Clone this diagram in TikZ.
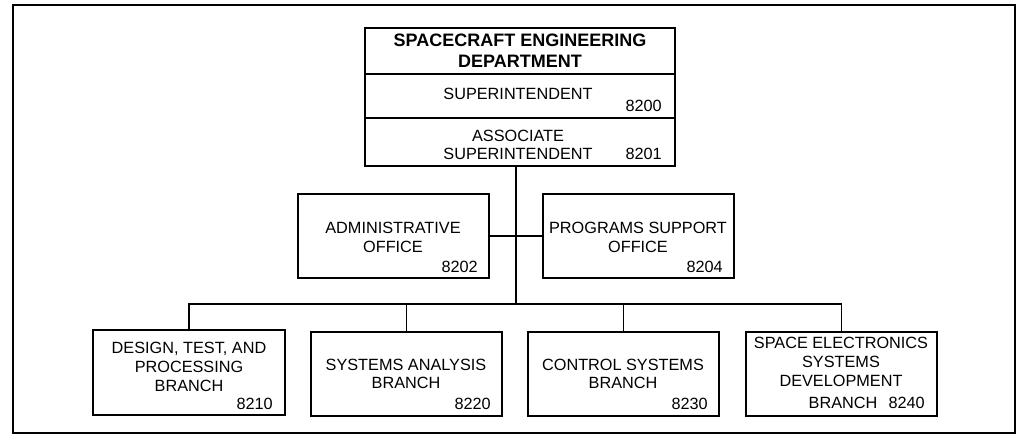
\documentclass[tikz,border=0pt]{standalone}
\usepackage{fontspec}
\setmainfont{Liberation Sans}
\usetikzlibrary{fit}
\begin{document}
\begin{tikzpicture}[x=0.75pt,y=-0.75pt,
  box/.style={draw, line width=0.8pt, inner sep=0pt, rectangle},
  frame/.style={draw, line width=2pt, inner sep=0pt, rectangle},
  conn/.style={draw, line width=0.8pt},
  lbl/.style={anchor=base, inner sep=0pt, font=\fontsize{12.2}{14}\selectfont},
  ttl/.style={anchor=base, inner sep=0pt, font=\fontsize{13.5}{16}\selectfont\bfseries},
  num/.style={anchor=base east, inner sep=0pt, font=\fontsize{12.2}{14}\selectfont}]
\useasboundingbox (0,0) rectangle (1018,435);
\node[frame, fit={(13,5) (1015,433)}] (outer) {};
% top stack
\node[box, fit={(365,28) (675,74)}] (dept) {};
\node[box, fit={(365,74) (675,118)}] (sup) {};
\node[box, fit={(365,118) (675,166)}] (assoc) {};
% offices
\node[box, fit={(298,194) (489,278)}] (admin) {};
\node[box, fit={(543,194) (734,278)}] (prog) {};
% branches
\node[box, fit={(93,330) (285,415)}] (b1) {};
\node[box, fit={(311,332) (502,416)}] (b2) {};
\node[box, fit={(528,332) (719,416)}] (b3) {};
\node[box, fit={(746,332) (937,416)}] (b4) {};
% connectors
\coordinate (hub) at (516,236);
\coordinate (bus) at (516,304);
\draw[conn] (hub |- assoc.south) -- (bus);
\draw[conn] (admin) -- (prog);
\draw[conn] (b1.north) |- (b4.north |- bus) -- (b4.north);
\draw[conn] (b2.north) -- (b2.north |- bus);
\draw[conn] (b3.north) -- (b3.north |- bus);
% texts
\node[ttl] (t1) at (520,47) {SPACECRAFT ENGINEERING};
\node[ttl] (t2) at (520,68) {DEPARTMENT};
\node[lbl] (t3) at (518,100) {SUPERINTENDENT};
\node[num] (n0) at (662,112) {8200};
\node[lbl] (t4) at (518,142) {ASSOCIATE};
\node[lbl] (t5) at (518,160) {SUPERINTENDENT};
\node[num] (n1) at (662,160) {8201};
\node[lbl] (a1) at (393,233) {ADMINISTRATIVE};
\node[lbl] (a2) at (393,252) {OFFICE};
\node[num] (n2) at (478,272) {8202};
\node[lbl] (p1) at (638,233) {PROGRAMS SUPPORT};
\node[lbl] (p2) at (638,252) {OFFICE};
\node[num] (n4) at (723,272) {8204};
\node[lbl] (c1) at (189,353) {DESIGN, TEST, AND};
\node[lbl] (c2) at (189,372) {PROCESSING};
\node[lbl] (c3) at (189,391) {BRANCH};
\node[num] (n10) at (273,409) {8210};
\node[lbl] (d1) at (406,370) {SYSTEMS ANALYSIS};
\node[lbl] (d2) at (406,388) {BRANCH};
\node[num] (n20) at (491,409) {8220};
\node[lbl] (e1) at (623,370) {CONTROL SYSTEMS};
\node[lbl] (e2) at (623,388) {BRANCH};
\node[num] (n30) at (708,409) {8230};
\node[lbl] (f1) at (841,348) {SPACE ELECTRONICS};
\node[lbl] (f2) at (841,367) {SYSTEMS};
\node[lbl] (f3) at (841,386) {DEVELOPMENT};
\node[lbl] (f4) at (843,408) {BRANCH};
\node[num] (n40) at (925,408) {8240};
\end{tikzpicture}
\end{document}
